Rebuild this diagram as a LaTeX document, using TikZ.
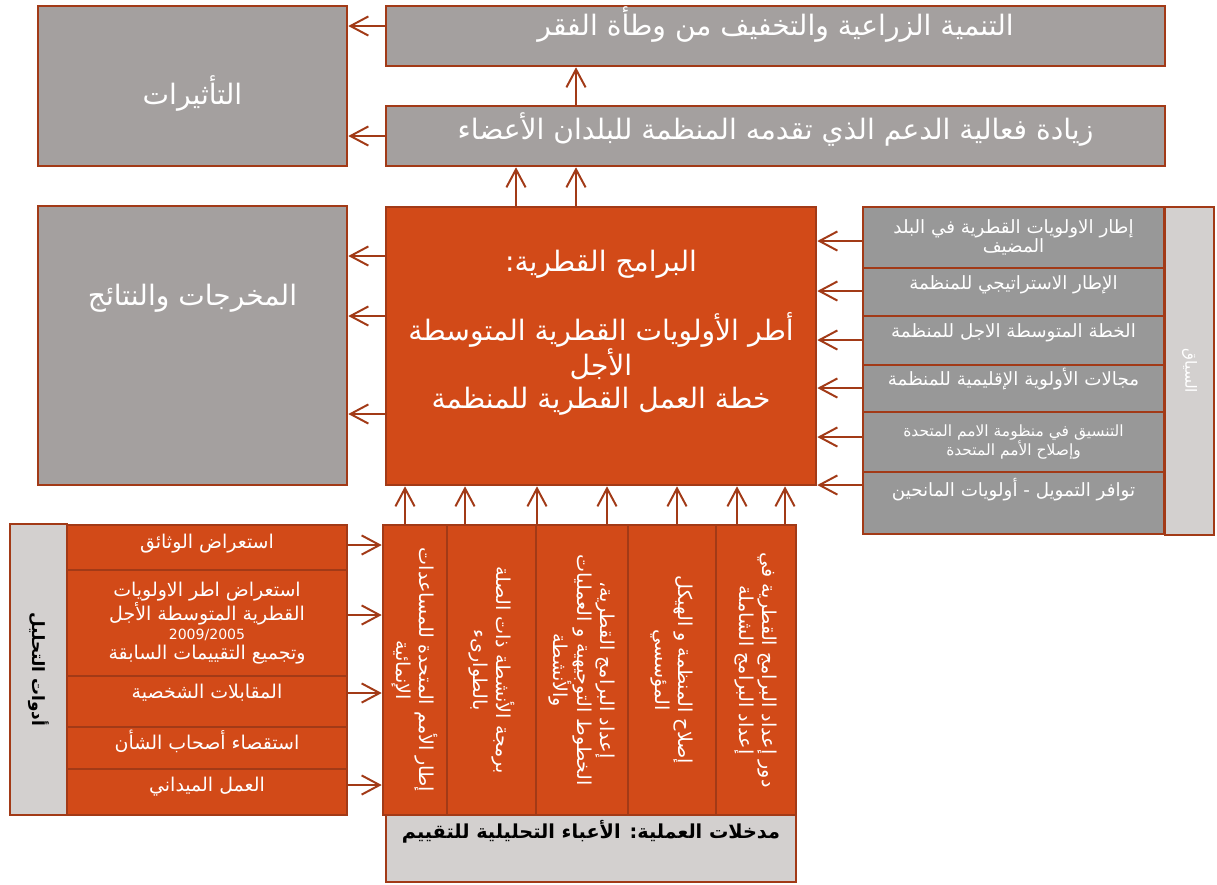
\documentclass[tikz,border=0pt]{standalone}
\usepackage{fontspec}
\newfontfamily\arabicfont[Script=Arabic]{DejaVu Sans}
\TeXXeTstate=1
\usetikzlibrary{arrows.meta}
\definecolor{rust}{HTML}{A23A17}
\definecolor{flame}{HTML}{D24A18}
\definecolor{stone}{HTML}{A4A09F}
\definecolor{slate}{HTML}{989898}
\definecolor{mist}{HTML}{D3D0CF}
\newcommand\arl[1]{\beginR #1\endR}
\tikzset{
  evbase/.style  = {draw=rust, line width=1.8pt, align=center, inner sep=1pt, text=white, font=\arabicfont},
  evstone/.style = {evbase, fill=stone, font=\arabicfont\fontsize{20}{25}\selectfont},
  evflame/.style = {evbase, fill=flame},
  evslate/.style = {evbase, fill=slate, minimum width=7.525cm, font=\arabicfont\fontsize{13}{14}\selectfont},
  evmist/.style  = {evbase, fill=mist, text=black},
  evtool/.style  = {evflame, minimum width=7cm, font=\arabicfont\fontsize{13.5}{14}\selectfont},
  evcol/.style   = {evflame, rotate=-90, minimum width=7.25cm, font=\arabicfont\fontsize{13.6}{16.5}\selectfont},
  evarr/.style   = {draw=rust, line width=1.4pt, -{Straight Barb[length=4.5mm,width=4.8mm]}},
}
\begin{document}
\begin{tikzpicture}[x=0.025cm, y=-0.025cm]
\useasboundingbox (0,0) rectangle (1217,884);

% results side
\node[evstone, minimum width=7.725cm, minimum height=4cm, text height=0.93cm, text depth=0cm] (impact) at (192.5,86) {\arl{التأثيرات}};
\node[evstone, minimum width=19.475cm, minimum height=1.5cm, text height=0.4cm, text depth=0.45cm] (goal) at (775.5,36)
  {\arl{التنمية الزراعية والتخفيف من وطأة الفقر}};
\node[evstone, minimum width=19.475cm, minimum height=1.5cm, text height=0.4cm, text depth=0.25cm] (eff) at (775.5,136)
  {\arl{زيادة فعالية الدعم الذي تقدمه المنظمة للبلدان الأعضاء}};
\node[evstone, minimum width=7.725cm, minimum height=6.975cm, text height=0.4cm, text depth=2.38cm] (outres) at (192.5,345.5)
  {\arl{المخرجات والنتائج}};

\node[evflame, minimum width=10.75cm, minimum height=6.95cm, font=\arabicfont\fontsize{20}{23.4}\selectfont] (prog) at (601,346)
  {\arl{البرامج القطرية:}\\[23.4pt]\arl{أطر الأولويات القطرية المتوسطة}\\\arl{الأجل}\\\arl{خطة العمل القطرية للمنظمة}\\\mbox{}};

% context
\node[evslate, minimum height=1.525cm] (host) at (1013.5,237.5) {\arl{إطار الاولويات القطرية في البلد}\\\arl{المضيف}};
\node[evslate, minimum height=1.2cm, text height=0.25cm, text depth=0.4cm] (strat) at (1013.5,292) {\arl{الإطار الاستراتيجي للمنظمة}};
\node[evslate, minimum height=1.225cm, text height=0.25cm, text depth=0.42cm] (mtp) at (1013.5,340.5) {\arl{الخطة المتوسطة الاجل للمنظمة}};
\node[evslate, minimum height=1.175cm, text height=0.25cm, text depth=0.42cm] (reg) at (1013.5,388.5) {\arl{مجالات الأولوية الإقليمية للمنظمة}};
\node[evslate, minimum height=1.5cm, font=\arabicfont\fontsize{11}{13}\selectfont] (un) at (1013.5,442)
  {\arl{التنسيق في منظومة الامم المتحدة}\\\arl{وإصلاح الأمم المتحدة}};
\node[evslate, minimum height=1.55cm, text height=0.25cm, text depth=0.6cm] (fund) at (1013.5,503) {\arl{توافر التمويل - أولويات المانحين}};
\node[evmist, rotate=-90, minimum width=8.2cm, minimum height=1.225cm, text=white, font=\arabicfont\fontsize{11}{13}\selectfont] (ctx) at (1189.5,371)
  {\arl{السياق}};

% analytical tools
\node[evmist, rotate=-90, minimum width=7.275cm, minimum height=1.425cm, font=\arabicfont\bfseries\fontsize{12}{14}\selectfont] (tools) at (38.5,669.5)
  {\arl{أدوات التحليل}};
\node[evtool, minimum height=1.125cm, text height=0.27cm, text depth=0.22cm] (docs) at (207,547.5) {\arl{استعراض الوثائق}};
\node[evtool, minimum height=2.65cm] (cpf) at (207,623)
  {\arl{استعراض اطر الاولويات}\\\arl{القطرية المتوسطة الأجل}\\{\fontsize{10}{12}\selectfont 2009/2005}\\\arl{وتجميع التقييمات السابقة}};
\node[evtool, minimum height=1.275cm, text height=0.27cm, text depth=0.42cm] (intv) at (207,701.5) {\arl{المقابلات الشخصية}};
\node[evtool, minimum height=1.05cm, text height=0.27cm, text depth=0.2cm] (survey) at (207,748) {\arl{استقصاء أصحاب الشأن}};
\node[evtool, minimum height=1.15cm, text height=0.27cm, text depth=0.3cm] (field) at (207,792) {\arl{العمل الميداني}};

% process inputs
\node[evcol, minimum height=1.6cm] (undaf) at (415,670) {\arl{إطار الأمم المتحدة للمساعدات}\\\arl{الإنمائية}};
\node[evcol, minimum height=2.225cm] (emerg) at (491.5,670) {\arl{برمجة الأنشطة ذات الصلة}\\\arl{بالطوارىء}};
\node[evcol, minimum height=2.3cm] (guide) at (582,670)
  {\arl{إعداد البرامج القطرية،}\\\arl{الخطوط التوجيهية و العمليات}\\\arl{والأنشطة}};
\node[evcol, minimum height=2.2cm] (reform) at (672,670) {\arl{إصلاح المنظمة و الهيكل}\\\arl{المؤسسي}};
\node[evcol, minimum height=2cm] (role) at (756,670) {\arl{دور إعداد البرامج القطرية في}\\\arl{إعداد البرامج الشاملة}};
\node[evmist, minimum width=10.25cm, minimum height=1.675cm, text height=0.3cm, text depth=0.78cm,
      font=\arabicfont\bfseries\fontsize{13.7}{15}\selectfont] (inputs) at (591,848.5)
  {\arl{مدخلات العملية: الأعباء التحليلية للتقييم}};

% connectors
\draw[evarr] (goal.west |- 0,26) -- (impact.east |- 0,26);
\draw[evarr] (eff.west) -- (eff.west -| impact.east);
\draw[evarr] (eff.north -| 576,0) -- (goal.south -| 576,0);
\foreach \x in {516,576}{\draw[evarr] (prog.north -| \x,0) -- (eff.south -| \x,0);}
\foreach \y in {256,316,414}{\draw[evarr] (prog.west |- 0,\y) -- (outres.east |- 0,\y);}
\foreach \n/\y in {host/241, strat/291, mtp/340, reg/388, un/437, fund/485}
  {\draw[evarr] (\n.west |- 0,\y) -- (prog.east |- 0,\y);}
\foreach \x in {405,465,537,607,677,737,785}{\draw[evarr] (undaf.west -| \x,0) -- (prog.south -| \x,0);}
\foreach \n/\y in {docs/545, cpf/615, intv/693, field/785}
  {\draw[evarr] (\n.east |- 0,\y) -- (undaf.south |- 0,\y);}
\end{tikzpicture}
\end{document}
